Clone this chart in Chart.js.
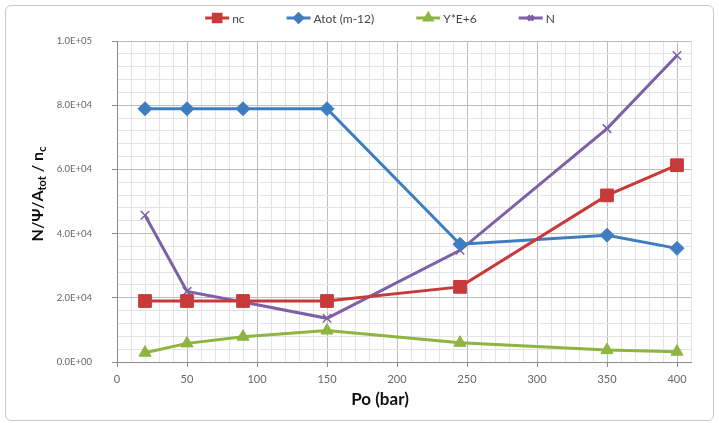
<!DOCTYPE html>
<html>
<head>
<meta charset="utf-8">
<script src="https://cdn.jsdelivr.net/npm/chart.js"></script>
<style>
  body { margin: 0; background: #fff; }
  #wrap { position: relative; width: 719px; height: 423px; }
  #frame { position: absolute; left: 5px; top: 5px; width: 707px; height: 414px;
           border: 1px solid #c8c8c8; border-radius: 6px; pointer-events: none; }
</style>
</head>
<body>
<div id="wrap">
  <canvas id="grafik" width="719" height="423"></canvas>
  <div id="frame"></div>
</div>
<script>
var pressure = [20, 50, 90, 150, 245, 350, 400];
var nc   = [19000, 19000, 19000, 19000, 23400, 51900, 61300];
var atot = [78900, 78900, 78900, 78900, 36700, 39500, 35400];
var yE6  = [2900, 5800, 7900, 9800, 6000, 3700, 3200];
var nN   = [45700, 22000, 18700, 13600, 34800, 72700, 95500];

var seriesNames = ['nc', 'Atot (m-12)', 'Y*E+6', 'N'];
var seriesColors = ['#C83A3A', '#3F7DC1', '#8DB540', '#7D60A6'];
var seriesStyles = ['rect', 'rectRot', 'triangle', 'crossRot'];
var seriesRadius = [9, 7, 7, 6];
var allSeries = [nc, atot, yE6, nN];

var toPoints = (vals) => vals.map((v, i) => ({ x: pressure[i], y: v }));

var sci = (v) => {
    if (v === 0) return '0.0E+00';
    var e = Math.floor(Math.log10(v));
    var m = v / Math.pow(10, e);
    return m.toFixed(1) + 'E+' + (e < 10 ? '0' + e : e);
};

var datasets = allSeries.map((vals, i) => ({
    label: seriesNames[i],
    data: toPoints(vals),
    borderColor: seriesColors[i],
    backgroundColor: seriesColors[i],
    borderWidth: 3,
    pointStyle: seriesStyles[i],
    pointRadius: seriesRadius[i],
    pointBorderWidth: seriesStyles[i] === 'crossRot' ? 1.5 : 1,
    tension: 0
}));

// legend + axis titles drawn by hand so they sit where Excel put them
var decorPlugin = {
    id: 'decor',
    afterDraw: (chart) => {
        const ctx = chart.ctx;
        ctx.save();
        // legend
        ctx.font = '12px Lato';
        ctx.textBaseline = 'middle';
        var lineW = 24, gap = 3, itemGap = 42, ly = 18;
        var widths = seriesNames.map(n => lineW + gap + ctx.measureText(n).width);
        var total = widths.reduce((a, b) => a + b, 0) + itemGap * (widths.length - 1);
        var x = 380 - total / 2;
        seriesNames.forEach((name, i) => {
            ctx.strokeStyle = seriesColors[i];
            ctx.fillStyle = seriesColors[i];
            ctx.lineWidth = 3;
            ctx.beginPath();
            ctx.moveTo(x, ly);
            ctx.lineTo(x + lineW, ly);
            ctx.stroke();
            Chart.helpers.drawPoint(ctx, {
                pointStyle: seriesStyles[i],
                radius: seriesRadius[i] * 0.6,
                borderWidth: 1
            }, x + lineW / 2, ly);
            ctx.fillStyle = '#444';
            ctx.textAlign = 'left';
            ctx.fillText(name, x + lineW + gap, ly + 1);
            x += widths[i] + itemGap;
        });

        // x title
        ctx.fillStyle = '#111';
        ctx.font = 'bold 17px Lato';
        ctx.textAlign = 'center';
        ctx.fillText('Po (bar)', 380, 400);

        // y title with subscripts
        ctx.translate(38, 194);
        ctx.rotate(-Math.PI / 2);
        var parts = [['N/\u03A8/A', 0, 16], ['tot', 4, 11], [' / n', 0, 16], ['c', 4, 11]];
        var tw = 0;
        parts.forEach(p => { ctx.font = 'bold ' + p[2] + 'px Lato'; tw += ctx.measureText(p[0]).width; });
        var px = -tw / 2;
        ctx.textAlign = 'left';
        parts.forEach(p => {
            ctx.font = 'bold ' + p[2] + 'px Lato';
            ctx.fillText(p[0], px, p[1]);
            px += ctx.measureText(p[0]).width;
        });
        ctx.restore();
    }
};

var gridColor = (major) => (c) => (c.tick && c.tick.value % major === 0) ? '#BDBDBD' : '#E4E4E4';
var tickColor = (major) => (c) => (c.tick && c.tick.value % major === 0) ? '#8A8A8A' : 'rgba(0,0,0,0)';

new Chart(document.getElementById('grafik'), {
    type: 'line',
    data: { datasets: datasets },
    options: {
        responsive: false,
        animation: false,
        layout: { padding: { top: 41, right: 28, left: 0, bottom: 0 } },
        plugins: { legend: { display: false }, tooltip: { enabled: false } },
        scales: {
            x: {
                type: 'linear',
                min: 0,
                max: 410,
                afterFit: (s) => { s.height = 61; },
                ticks: {
                    stepSize: 10,
                    autoSkip: false,
                    maxRotation: 0,
                    padding: 6,
                    color: '#666',
                    font: { family: 'Lato', size: 11 },
                    callback: (v) => v % 50 === 0 ? String(v) : ''
                },
                grid: { color: gridColor(50), tickColor: tickColor(50), tickLength: 5 },
                border: { color: '#8A8A8A' }
            },
            y: {
                min: 0,
                max: 100000,
                afterFit: (s) => { s.width = 117; },
                ticks: {
                    stepSize: 4000,
                    autoSkip: false,
                    padding: 20,
                    color: '#666',
                    font: { family: 'Lato', size: 9.5 },
                    callback: (v) => v % 20000 === 0 ? sci(v) : ''
                },
                grid: { color: gridColor(20000), tickColor: tickColor(20000), tickLength: 5 },
                border: { color: '#8A8A8A' }
            }
        }
    },
    plugins: [decorPlugin]
});
</script>
</body>
</html>
